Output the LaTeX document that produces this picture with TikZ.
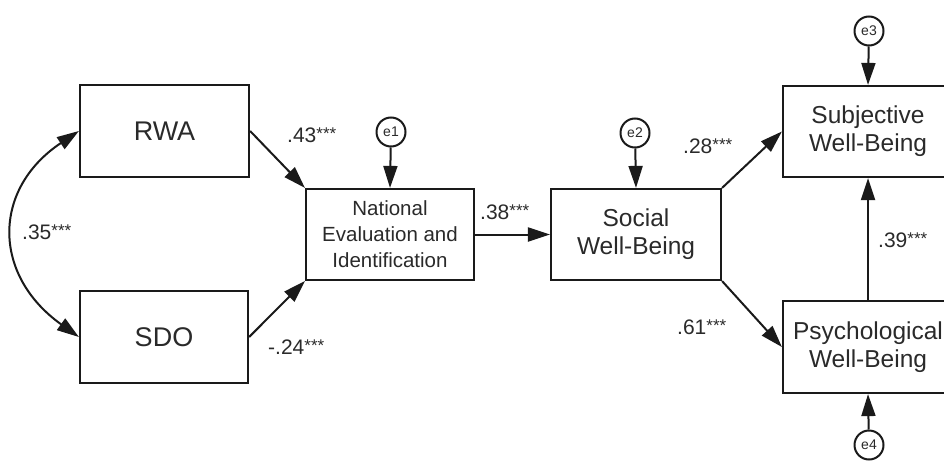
\documentclass[tikz,border=0pt]{standalone}
\usepackage{fontspec}
\setmainfont{Liberation Sans}
\usetikzlibrary{arrows.meta}
\definecolor{txt}{HTML}{2A2A2A}
\definecolor{ln}{HTML}{1A1A1A}
\newcommand{\sigstars}{{\fontsize{17}{17}\selectfont\raisebox{0.18em}{***}}}
\tikzset{
  box/.style={draw=ln, line width=2.2pt, fill=white, text=txt, align=center, inner sep=0pt},
  errc/.style={draw=ln, line width=2pt, circle, minimum size=29pt, inner sep=0pt, text=txt, font=\fontsize{14}{15}\selectfont},
  arr/.style={draw=ln, line width=2pt, -{Triangle[length=22pt,width=14pt]}},
  dblarr/.style={draw=ln, line width=2pt, {Triangle[length=22pt,width=14pt]}-{Triangle[length=22pt,width=14pt]}},
  coef/.style={text=txt, anchor=west, inner sep=0pt, font=\fontsize{21}{24}\selectfont},
  bigtxt/.style={font=\fontsize{27}{30}\selectfont},
  midtxt/.style={font=\fontsize{24.5}{28}\selectfont},
  smalltxt/.style={font=\fontsize{20.5}{26}\selectfont}
}
\begin{document}
\begin{tikzpicture}[x=1pt,y=-1pt]
\useasboundingbox (0,0) rectangle (944,460);
\clip (0,0) rectangle (944,460);
\fill[white] (0,0) rectangle (944,460);
% boxes
\node[box, bigtxt, minimum width=169pt, minimum height=92pt] (rwa) at (164.5,131) {RWA};
\node[box, bigtxt, minimum width=168pt, minimum height=92pt] (sdo) at (164,337) {SDO};
\node[box, smalltxt, minimum width=168pt, minimum height=91pt] (nat) at (390,234.5) {National\\Evaluation and\\Identification};
\node[box, midtxt, minimum width=170pt, minimum height=91pt] (soc) at (636,234.5) {Social\\Well-Being};
\node[box, midtxt, minimum width=170pt, minimum height=91pt] (sub) at (868,131.5) {Subjective\\Well-Being};
\node[box, midtxt, minimum width=170pt, minimum height=92pt] (psy) at (868,347) {Psychological\\Well-Being};
% error terms
\node[errc] (e1) at (391,132) {e1};
\node[errc] (e2) at (635,133) {e2};
\node[errc] (e3) at (869,31) {e3};
\node[errc] (e4) at (869,445) {e4};
% paths
\draw[arr] (rwa.east) -- (nat.north west);
\draw[arr] (sdo.east) -- (nat.south west);
\draw[arr] (nat.east) -- (soc.west);
\draw[arr] (soc.north east) -- (sub.west);
\draw[arr] (soc.south east) -- (psy.west);
\draw[arr] (psy.north) -- (sub.south);
\draw[arr] (e1) -- (nat.north);
\draw[arr] (e2) -- (soc.north);
\draw[arr] (e3) -- (sub.north);
\draw[arr] (e4) -- (psy.south);
\draw[dblarr] (rwa.west) .. controls (-8,189) and (-8,275) .. (sdo.west);
% coefficients
\node[coef] (c35) at (22,232) {.35\sigstars};
\node[coef] (c43) at (287,135) {.43\sigstars};
\node[coef] (c24) at (268,347) {-.24\sigstars};
\node[coef] (c38) at (480,212) {.38\sigstars};
\node[coef] (c28) at (683,146) {.28\sigstars};
\node[coef] (c61) at (677,327) {.61\sigstars};
\node[coef] (c39) at (878,240) {.39\sigstars};
\end{tikzpicture}
\end{document}
